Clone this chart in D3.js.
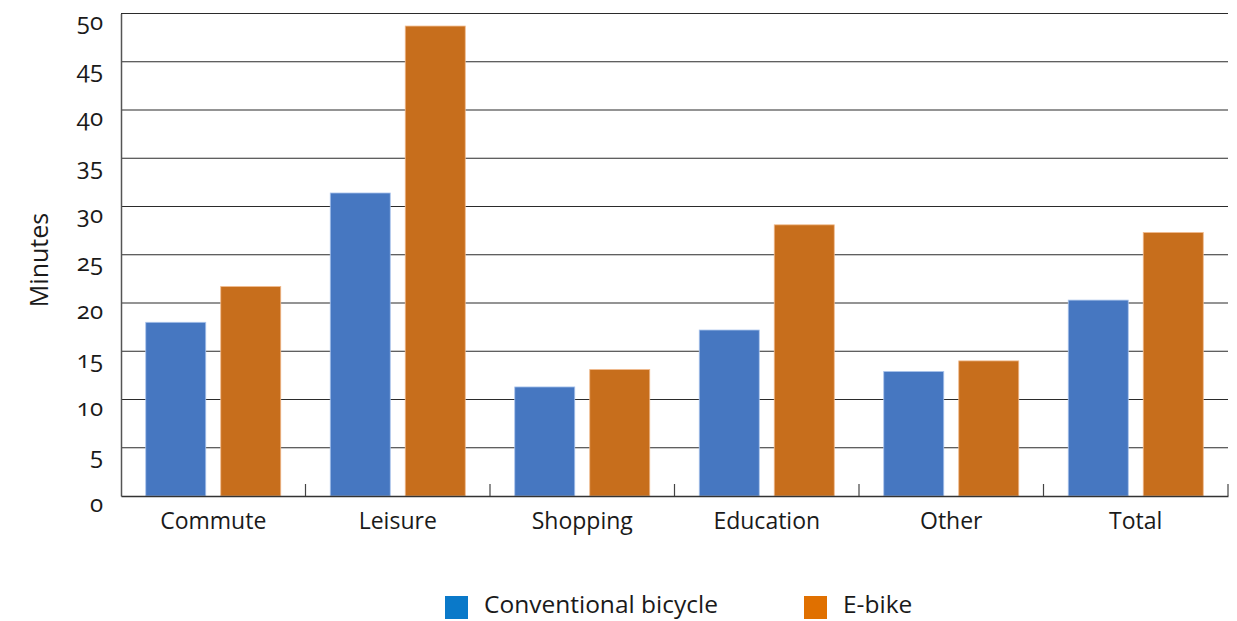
<!DOCTYPE html>
<html><head><meta charset="utf-8">
<script src="https://cdn.jsdelivr.net/npm/d3@7"></script>
<style>
body{margin:0;background:#fff;}
text{font-family:"Open Sans","Noto Sans",sans-serif;fill:#1a1a1a;}
</style></head>
<body><svg id="c" width="1237" height="621"></svg>
<script>
const categories = ["Commute","Leisure","Shopping","Education","Other","Total"];
const conventional = [18.0, 31.4, 11.3, 17.2, 12.9, 20.3];
const ebike = [21.7, 48.7, 13.1, 28.1, 14.0, 27.3];
const seriesNames = ["Conventional bicycle","E-bike"];
const yTicks = [0,5,10,15,20,25,30,35,40,45,50];

const barColors = ["#4677C1","#C76E1C"];
const legendColors = ["#0A79C9","#E07000"];

const svg = d3.select("#c");
const m = {l:121, r:1228, t:13.5, b:496};
const x = d3.scaleBand().domain(categories).range([m.l, m.r]).paddingInner(0).paddingOuter(0);
const y = d3.scaleLinear().domain([0,50]).range([m.b, m.t]);
const x1 = d3.scaleBand().domain([0,1]).range([0, 135]).paddingInner(0.2);

// gridlines
svg.append("g").selectAll("line").data(yTicks.filter(d=>d>0)).join("line")
  .attr("x1", m.l).attr("x2", m.r).attr("y1", d=>y(d)).attr("y2", d=>y(d))
  .attr("stroke","#2b2b2b").attr("stroke-width",1.2);

// bars
const data = categories.map((c,i)=>({c, v:[conventional[i], ebike[i]]}));
const g = svg.append("g");
data.forEach(d=>{
  const off = x(d.c) + (x.bandwidth()-135)/2;
  d.v.forEach((v,j)=>{
    g.append("rect").attr("x", off + x1(j)).attr("width", x1.bandwidth())
      .attr("y", y(v)).attr("height", y(0)-y(v))
      .attr("fill", barColors[j]).attr("stroke", j===0?"#a9c3ec":"#f0b98a").attr("stroke-width",0.8);
  });
});

// y axis
const ya = svg.append("g").attr("transform",`translate(${m.l},0)`)
  .call(d3.axisLeft(y).tickValues(yTicks).tickSize(0).tickPadding(18));
ya.select(".domain").attr("stroke","#555").attr("stroke-width",1.5);
ya.selectAll("text").attr("font-size",24).style("font-variant-numeric","oldstyle-nums").attr("fill","#1a1a1a").attr("dy","0.66em");

// x axis
const xa = svg.append("g").attr("transform",`translate(0,${m.b})`)
  .call(d3.axisBottom(x).tickSize(0).tickPadding(17));
xa.select(".domain").attr("stroke","#333").attr("stroke-width",1.5);
xa.selectAll("text").attr("font-size",23).attr("fill","#1a1a1a");
// boundary ticks (inward)
const bounds = categories.map(c=>x(c)).slice(1).concat([m.r]);
svg.append("g").selectAll("line").data(bounds).join("line")
  .attr("x1",d=>d).attr("x2",d=>d).attr("y1",m.b).attr("y2",m.b-12)
  .attr("stroke","#444").attr("stroke-width",1.2);

// y label
svg.append("text").attr("transform","translate(48,260) rotate(-90)")
  .attr("text-anchor","middle").attr("font-size",25).text("Minutes");

// legend
const lx = [445, 804];
seriesNames.forEach((s,i)=>{
  svg.append("rect").attr("x",lx[i]).attr("y",596).attr("width",23).attr("height",23).attr("fill",legendColors[i]);
  svg.append("text").attr("x",lx[i]+39).attr("y",613).attr("font-size",24.5).text(s);
});
</script></body></html>
